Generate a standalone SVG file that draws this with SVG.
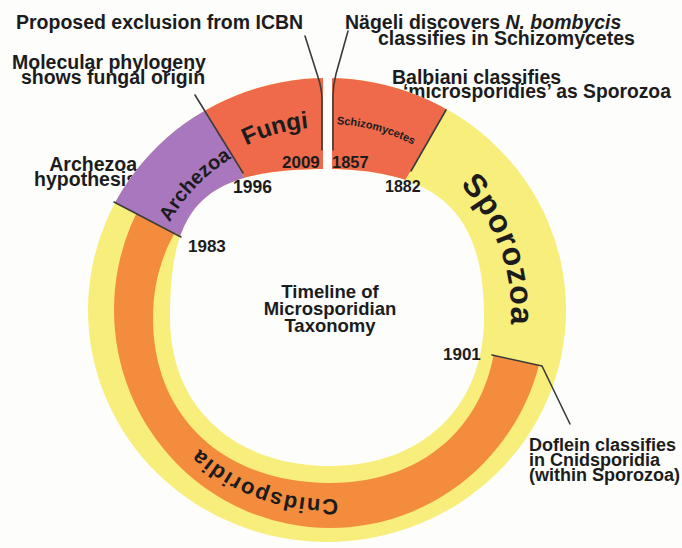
<svg xmlns="http://www.w3.org/2000/svg" width="682" height="548" viewBox="0 0 682 548">
<style>
.t{font-family:"Liberation Sans",Arial,Helvetica,sans-serif;font-weight:bold;fill:#1c1c1c}
.ann{font-size:19.5px}
.yr{font-size:17px}
.sep{fill:none;stroke:#3b3b3b;stroke-width:1.6;stroke-linecap:round;stroke-linejoin:round}
</style>
<defs>
<clipPath id="ringClip"><path clip-rule="evenodd" d="M327,78 A239,232 0 1 1 327,542 A239,232 0 1 1 327,78 Z M327,169 C460,169 484,236 484,318 C484,407 422,466 330,466 C234,466 170,407 170,318 C170,206 201,169 327,169 Z"/></clipPath>
<clipPath id="bandClip"><path clip-rule="evenodd" d="M330,92 A216,218 0 1 1 330,528 A216,218 0 1 1 330,92 Z M330,150 C430,150 497,218 497,318 C497,417 430,483 330,483 C224,483 153,417 153,318 C153,218 230,150 330,150 Z"/></clipPath>
<path id="pF" d="M327,127 A185,185 0 1 1 327,497 A185,185 0 1 1 327,127"/>
<path id="pS" d="M327,124 A188,188 0 1 1 327,500 A188,188 0 1 1 327,124"/>
<path id="pA" d="M327,131 A181,181 0 1 1 327,493 A181,181 0 1 1 327,131"/>
<path id="pC" d="M327,125 A187,187 0 1 1 327,499 A187,187 0 1 1 327,125"/>
<path id="pSp" d="M327,128 A184,184 0 1 1 327,496 A184,184 0 1 1 327,128"/>
</defs>
<rect width="682" height="548" fill="#fdfdfc"/>

<g id="annotations">
<text class="t ann" x="16" y="29">Proposed exclusion from ICBN</text>
<text class="t ann" text-anchor="middle"><tspan x="109" y="68.5">Molecular phylogeny</tspan><tspan x="113" y="83.5">shows fungal origin</tspan></text>
<text class="t ann" text-anchor="end"><tspan x="137" y="171">Archezoa</tspan><tspan x="137" y="186">hypothesis</tspan></text>
<text class="t ann" x="345" y="29">Nägeli discovers <tspan font-style="italic">N. bombycis</tspan></text>
<text class="t ann" x="378" y="45">classifies in Schizomycetes</text>
<text class="t ann" x="392" y="84">Balbiani classifies</text>
<text class="t" font-size="19.3" x="403" y="98">‘microsporidies’ as Sporozoa</text>
<text class="t" font-size="18"><tspan x="529" y="451">Doflein classifies</tspan><tspan x="529" y="466">in Cnidsporidia</tspan><tspan x="529" y="481">(within Sporozoa)</tspan></text>
</g>

<g id="sporozoa">
<polygon points="0,0 323,0 323,250 332,250 332,0 682,0 682,548 0,548" fill="#f8ee7c" clip-path="url(#ringClip)"/>
<text class="t" font-size="32" letter-spacing="1"><textPath href="#pSp" startOffset="19.5%" text-anchor="middle">Sporozoa</textPath></text>
</g>

<g id="cnidsporidia">
<polygon points="400,334.8 682,396.8 682,548 0,548 0,144.1 260,276.1" fill="#f48c3e" clip-path="url(#bandClip)"/>
<text class="t" font-size="22" letter-spacing="1.5"><textPath href="#pC" startOffset="55.56%" text-anchor="middle">Cnidsporidia</textPath></text>
</g>

<g id="fungi">
<polygon points="141.4,0 323,0 323,240 280.7,240" fill="#ef6a4b" clip-path="url(#ringClip)"/>
<text class="t" font-size="24"><textPath href="#pF" startOffset="95.6%" text-anchor="middle">Fungi</textPath></text>
</g>

<g id="schizomycetes">
<polygon points="332,0 510.2,0 370.2,240 332,240" fill="#ef6a4b" clip-path="url(#ringClip)"/>
<text class="t" font-size="11"><textPath href="#pS" startOffset="4.19%" text-anchor="middle">Schizomycetes</textPath></text>
</g>

<g id="archezoa">
<polygon points="0,0 141.4,0 280.7,240 260,276.1 0,144.1" fill="#a977bd" clip-path="url(#ringClip)"/>
<text class="t" font-size="20"><textPath href="#pA" startOffset="87.19%" text-anchor="middle">Archezoa</textPath></text>
</g>

<g id="connectors">
<path class="sep" d="M305,36 L318,77 Q322,89 322,100 L322,150"/>
<path class="sep" d="M348,31 L336,74 Q333,85 333,96 L333,150"/>
<path class="sep" d="M195,95 L243,173"/>
<path class="sep" d="M114,202 L181,237"/>
<path class="sep" d="M446,110 L411,171"/>
<path class="sep" d="M492,355 L542,366 L570,424"/>
</g>

<g id="years">
<text class="t yr" x="282" y="168">2009</text>
<text class="t" font-size="16.5" x="332" y="168">1857</text>
<text class="t" font-size="17.5" x="233" y="193">1996</text>
<text class="t yr" x="188" y="252">1983</text>
<text class="t" font-size="16" x="385" y="192">1882</text>
<text class="t yr" x="443" y="360">1901</text>
</g>

<g id="title">
<text class="t" font-size="18.5" text-anchor="middle"><tspan x="330" y="298">Timeline of</tspan><tspan x="330" y="315">Microsporidian</tspan><tspan x="330" y="332">Taxonomy</tspan></text>
</g>
</svg>
